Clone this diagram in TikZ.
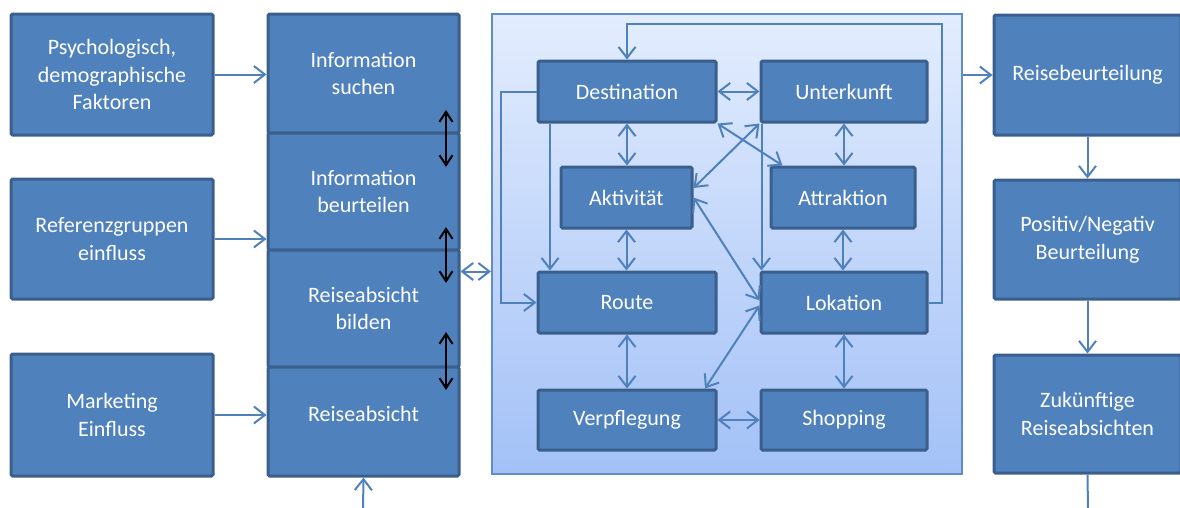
\documentclass[tikz,border=0pt]{standalone}
\usepackage{fontspec}
\setmainfont{Carlito}
\usetikzlibrary{arrows.meta,calc}
\definecolor{boxfill}{HTML}{4F81BD}
\definecolor{boxline}{HTML}{3A5F8C}
\definecolor{connblue}{HTML}{4F81BD}
\definecolor{paneltop}{HTML}{E3EDFE}
\definecolor{panelbot}{HTML}{A3C1F7}
\definecolor{panelline}{HTML}{5F8DCA}
\tikzset{
  box/.style={draw=boxline, fill=boxfill, line width=3pt, rounded corners=1.5pt,
    text=white, align=center, inner sep=0pt,
    font=\fontsize{22}{27.5}\selectfont},
  panelbox/.style={draw=panelline, line width=2pt, top color=paneltop,
    bottom color=panelbot, inner sep=0pt},
  conn/.style={draw=connblue, line width=2pt,
    arrows={-}, >={Straight Barb[length=11pt,width=17pt]}},
  blackconn/.style={draw=black, line width=2pt,
    >={Straight Barb[length=10pt,width=13pt]}},
}
\begin{document}
\begin{tikzpicture}[x=1pt,y=-1pt]
\clip (0,0) rectangle (1180,507);

% influencing factors
\node[box, minimum width=202, minimum height=121] (psy) at (112,74.5) {Psychologisch,\\demographische\\Faktoren};
\node[box, minimum width=202, minimum height=120] (ref) at (112,239) {Referenzgruppen\\einfluss};
\node[box, minimum width=202, minimum height=122] (mkt) at (112,415) {Marketing\\Einfluss};

% decision stages
\node[box, minimum width=191, minimum height=119] (such) at (363.5,73.5) {Information\\suchen};
\node[box, minimum width=191, minimum height=117] (beur) at (363.5,191.5) {Information\\beurteilen};
\node[box, minimum width=191, minimum height=117] (bild) at (363.5,308.5) {Reiseabsicht\\bilden};
\node[box, minimum width=191, minimum height=109] (absi) at (363.5,421.5) {\raisebox{8pt}[\height][\depth]{Reiseabsicht}};

% travel components panel
\node[panelbox, minimum width=470, minimum height=460] (panel) at (727,244) {};
\node[box, minimum width=178, minimum height=61] (dest) at (627,91.5) {Destination};
\node[box, minimum width=166, minimum height=61] (unter) at (844,91.5) {Unterkunft};
\node[box, minimum width=131, minimum height=61] (akt) at (626.5,197.5) {Aktivität};
\node[box, minimum width=144, minimum height=61] (attr) at (843,197.5) {Attraktion};
\node[box, minimum width=178, minimum height=61] (route) at (627,302.5) {Route};
\node[box, minimum width=166, minimum height=61] (lok) at (844,302.5) {Lokation};
\node[box, minimum width=178, minimum height=60] (verp) at (627,420) {Verpflegung};
\node[box, minimum width=166, minimum height=60] (shop) at (844,420) {Shopping};

% evaluation
\node[box, minimum width=187, minimum height=120] (rb) at (1087.5,75) {Reisebeurteilung};
\node[box, minimum width=187, minimum height=119] (pn) at (1087.5,239.5) {Positiv/Negativ\\Beurteilung};
\node[box, minimum width=187, minimum height=118] (zk) at (1087.5,414) {Zukünftige\\Reiseabsichten};

% free ends
\coordinate (loop) at (942,24);
\coordinate (absin) at (363,510);
\coordinate (zkout) at (1088,510);
\coordinate (s1a) at (446,110);
\coordinate (s1b) at (446,167);
\coordinate (s2a) at (446,227);
\coordinate (s2b) at (446,283);
\coordinate (s3a) at (446,332);
\coordinate (s3b) at (446,390);

% factors to stages
\draw[conn,->] (psy.east) -- (psy.east -| such.west);
\draw[conn,->] (ref.east) -- (ref.east -| beur.west);
\draw[conn,->] (mkt.east) -- (mkt.east -| absi.west);
\draw[conn,->] (absin) -- (absi.south);

% stage transitions
\draw[blackconn,<->] (s1a) -- (s1b);
\draw[blackconn,<->] (s2a) -- (s2b);
\draw[blackconn,<->] (s3a) -- (s3b);

% stages to panel
\draw[conn,<->] ([yshift=37]bild.east) -- ([yshift=37]bild.east -| panel.west);

% inside the panel
\draw[conn,->] (lok.east) -| (loop) -| (dest.north);
\draw[conn,->] (dest.west) -- ++(-36,0) |- (route.west);
\draw[conn,->] ([xshift=-77]dest.south) -- ([xshift=-77]route.north);
\draw[conn,->] ([xshift=2]unter.south west) -- ([xshift=2]lok.north west);
\draw[conn,<->] (dest.east) -- (unter.west);
\draw[conn,<->] (dest.south) -- (akt.north -| dest.south);
\draw[conn,<->] (unter.south) -- (attr.north -| unter.south);
\draw[conn,<->] (akt.south) -- (route.north -| akt.south);
\draw[conn,<->] (attr.south) -- (lok.north -| attr.south);
\draw[conn,<->] (route.south) -- (verp.north);
\draw[conn,<->] (lok.south) -- (shop.north);
\draw[conn,<->] (verp.east) -- (shop.west);
\draw[conn,<->] (dest.south east) -- ([xshift=13]attr.north west);
\draw[conn,<->] (unter.south west) -- ([yshift=9.5]akt.east);
\draw[conn,<->] (akt.east) -- ([yshift=2]lok.west);
\draw[conn,<->] ([yshift=-3]lok.west) -- ([xshift=78]verp.north);

% panel to evaluation
\draw[conn,->] (rb.west -| panel.east) -- (rb.west);
\draw[conn,->] (rb.south) -- (pn.north);
\draw[conn,->] (pn.south) -- (zk.north);
\draw[conn] (zk.south) -- (zkout);
\end{tikzpicture}
\end{document}
